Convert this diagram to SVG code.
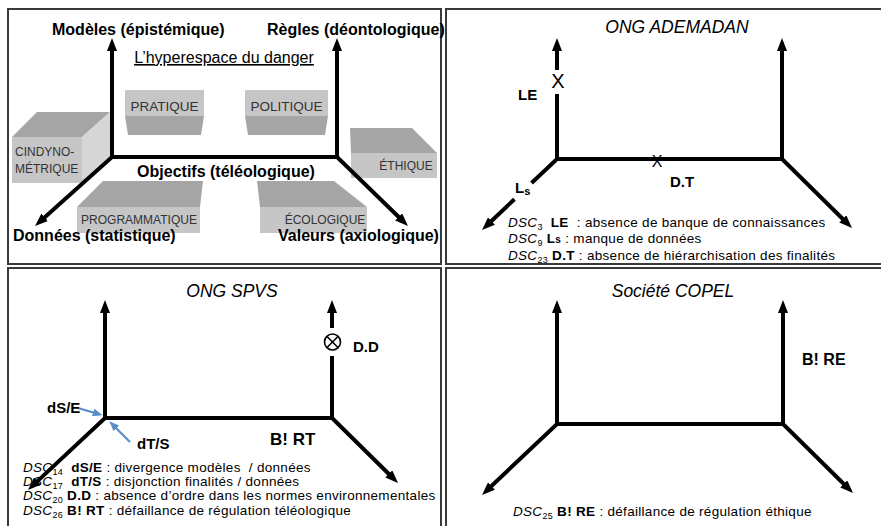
<svg xmlns="http://www.w3.org/2000/svg" width="881" height="526" viewBox="0 0 881 526">
<style>
.panel{fill:#fff;stroke:#3a3a3a;stroke-width:2}
.ax{stroke:#000;stroke-width:4;fill:none;stroke-linecap:square}
.arr{marker-end:url(#ah)}
.blue{stroke:#5a8cc8;stroke-width:2.2;fill:none;marker-end:url(#bh)}
text{font-family:"Liberation Sans",Arial,sans-serif;fill:#000}
.big{font-size:16px;font-weight:bold}
.lab{font-size:15px;font-weight:bold}
.ttl{font-size:17.5px;font-style:italic}
.leg{font-size:13.5px;letter-spacing:0.3px}
.it{font-style:italic}
.b{font-weight:bold}
.sub{font-size:9px}
.bx{font-size:12px;fill:#333}
.bx2{font-size:13.5px;fill:#333}
.f1{fill:#c6c6c6}
.f2{fill:#a5a5a5}
.f3{fill:#d6d6d6}
</style>
<defs>
<marker id="ah" viewBox="0 0 13 10" markerWidth="13" markerHeight="10" refX="2" refY="5" orient="auto" markerUnits="userSpaceOnUse"><path d="M0,0 L13,5 L0,10 z" fill="#000"/></marker>
<marker id="bh" viewBox="0 0 10 8" markerWidth="10" markerHeight="8" refX="2" refY="4" orient="auto" markerUnits="userSpaceOnUse"><path d="M0,0 L10,4 L0,8 z" fill="#5a8cc8"/></marker>
</defs>

<rect class="panel" x="8" y="9" width="433" height="255"/>
<rect class="panel" x="446" y="9" width="440" height="255"/>
<rect class="panel" x="8" y="268" width="433" height="264"/>
<rect class="panel" x="446" y="268" width="440" height="264"/>

<g id="box-pratique">
<rect class="f1" x="125" y="90" width="79" height="26"/>
<polygon class="f2" points="125,116 204,116 201,135 128,135"/>
<text class="bx2" x="164.5" y="111" text-anchor="middle">PRATIQUE</text>
</g>
<g id="box-politique">
<rect class="f1" x="245" y="90" width="83" height="26"/>
<polygon class="f2" points="245,116 328,116 325,135 248,135"/>
<text class="bx2" x="286.5" y="111" text-anchor="middle">POLITIQUE</text>
</g>
<g id="box-cindynometrique">
<polygon class="f2" points="12,137 37,112 110,112 82,137"/>
<polygon class="f3" points="82,137 110,112 110,160 82,183"/>
<rect class="f1" x="12" y="137" width="70" height="46"/>
<text class="bx" x="15" y="156">CINDYNO-</text>
<text class="bx" x="15" y="173">MÉTRIQUE</text>
</g>
<g id="box-ethique">
<polygon class="f2" points="350,128 412,128 437,153 351,153"/>
<rect class="f1" x="351" y="153" width="86" height="25"/>
<text class="bx" x="406" y="170" text-anchor="middle">ÉTHIQUE</text>
</g>
<g id="box-programmatique">
<polygon class="f2" points="103,181 203,181 200,207 77,207"/>
<rect class="f1" x="77" y="207" width="123" height="26"/>
<text class="bx" x="139" y="224" text-anchor="middle">PROGRAMMATIQUE</text>
</g>
<g id="box-ecologique">
<polygon class="f2" points="257,181 334,181 367,207 260,207"/>
<rect class="f1" x="260" y="207" width="107" height="26"/>
<text class="bx" x="325" y="224" text-anchor="middle">ÉCOLOGIQUE</text>
</g>

<g id="connectors">
<line class="ax arr" x1="112" y1="157" x2="112" y2="49"/>
<line class="ax arr" x1="337" y1="157" x2="337" y2="49"/>
<line class="ax" x1="112" y1="157" x2="337" y2="157"/>
<line class="ax arr" x1="112" y1="157" x2="43.2" y2="218.7"/>
<line class="ax arr" x1="337" y1="157" x2="400.1" y2="218.3"/>

<line class="ax" x1="557" y1="159" x2="557" y2="96"/>
<line class="ax arr" x1="557" y1="68" x2="557" y2="49"/>
<line class="ax arr" x1="782" y1="159" x2="782" y2="49"/>
<line class="ax" x1="557" y1="159" x2="782" y2="159"/>
<line class="ax" x1="557" y1="159" x2="533" y2="181.7"/>
<line class="ax arr" x1="513" y1="200.6" x2="490" y2="222.4"/>
<line class="ax arr" x1="782" y1="159" x2="844.2" y2="220.3"/>

<line class="ax arr" x1="105" y1="418" x2="105" y2="311"/>
<line class="ax" x1="332" y1="418" x2="332" y2="358"/>
<line class="ax arr" x1="332" y1="326" x2="332" y2="311"/>
<line class="ax" x1="105" y1="418" x2="332" y2="418"/>
<line class="ax arr" x1="105" y1="418" x2="36" y2="482.5"/>
<line class="ax arr" x1="332" y1="418" x2="390.2" y2="475.3"/>
<line class="blue" x1="78" y1="408" x2="95" y2="413"/>
<line class="blue" x1="130" y1="442" x2="115" y2="427"/>

<line class="ax arr" x1="557" y1="424" x2="557" y2="311"/>
<line class="ax arr" x1="783" y1="424" x2="783" y2="311"/>
<line class="ax" x1="557" y1="424" x2="783" y2="424"/>
<line class="ax arr" x1="557" y1="424" x2="490" y2="487.4"/>
<line class="ax arr" x1="783" y1="424" x2="845.2" y2="485.3"/>
</g>

<g id="labels-hyperespace">
<text class="big" x="52" y="35">Modèles (épistémique)</text>
<text class="big" x="267" y="35">Règles (déontologique)</text>
<text x="224" y="63" text-anchor="middle" font-size="16" text-decoration="underline">L’hyperespace du danger</text>
<text class="big" x="226" y="177" text-anchor="middle">Objectifs (téléologique)</text>
<text class="big" x="13" y="241">Données (statistique)</text>
<text class="big" x="278" y="241">Valeurs (axiologique)</text>
</g>

<g id="panel-ademadan">
<text class="ttl" x="677" y="33" text-anchor="middle">ONG ADEMADAN</text>
<text x="558" y="88" font-size="20" text-anchor="middle">X</text>
<text class="lab" x="518" y="100">LE</text>
<text x="657" y="167" font-size="16" text-anchor="middle">X</text>
<text class="lab" x="670" y="187">D.T</text>
<text class="lab" x="515" y="193">L<tspan font-size="11" dy="2">s</tspan></text>
<text class="leg" x="508" y="227" xml:space="preserve"><tspan class="it">DSC</tspan><tspan class="sub" dy="3">3</tspan><tspan dy="-3">  </tspan><tspan class="b">LE</tspan>  : absence de banque de connaissances</text>
<text class="leg" x="508" y="243" xml:space="preserve"><tspan class="it">DSC</tspan><tspan class="sub" dy="3">9</tspan><tspan dy="-3"> </tspan><tspan class="b">L<tspan font-size="10">s</tspan></tspan> : manque de données</text>
<text class="leg" x="508" y="260" xml:space="preserve"><tspan class="it">DSC</tspan><tspan class="sub" dy="3">23</tspan><tspan dy="-3"> </tspan><tspan class="b">D.T</tspan> : absence de hiérarchisation des finalités</text>
</g>

<g id="panel-spvs">
<text class="ttl" x="232" y="297" text-anchor="middle">ONG SPVS</text>
<g id="otimes" fill="none" stroke="#000" stroke-width="1.6">
<circle cx="332.5" cy="342" r="8"/>
<line x1="326.8" y1="336.3" x2="338.2" y2="347.7"/>
<line x1="338.2" y1="336.3" x2="326.8" y2="347.7"/>
</g>
<text class="lab" x="353" y="352">D.D</text>
<text class="lab" x="47" y="413">dS/E</text>
<text class="lab" x="137" y="449">dT/S</text>
<text x="270" y="445" font-size="17" font-weight="bold">B! RT</text>
<text class="leg" x="23" y="472" xml:space="preserve"><tspan class="it">DSC</tspan><tspan class="sub" dy="3">14</tspan><tspan dy="-3">  </tspan><tspan class="b">dS/E</tspan> : divergence modèles  / données</text>
<text class="leg" x="23" y="486" xml:space="preserve"><tspan class="it">DSC</tspan><tspan class="sub" dy="3">17</tspan><tspan dy="-3">  </tspan><tspan class="b">dT/S</tspan> : disjonction finalités / données</text>
<text class="leg" x="23" y="500" xml:space="preserve"><tspan class="it">DSC</tspan><tspan class="sub" dy="3">20</tspan><tspan dy="-3"> </tspan><tspan class="b">D.D</tspan> : absence d’ordre dans les normes environnementales</text>
<text class="leg" x="23" y="515" xml:space="preserve"><tspan class="it">DSC</tspan><tspan class="sub" dy="3">26</tspan><tspan dy="-3"> </tspan><tspan class="b">B! RT</tspan> : défaillance de régulation téléologique</text>
</g>

<g id="panel-copel">
<text class="ttl" x="673" y="297" text-anchor="middle">Société COPEL</text>
<text x="802" y="365" font-size="16" font-weight="bold">B! RE</text>
<text class="leg" x="513" y="516" xml:space="preserve"><tspan class="it">DSC</tspan><tspan class="sub" dy="3">25</tspan><tspan dy="-3"> </tspan><tspan class="b">B! RE</tspan> : défaillance de régulation éthique</text>
</g>
</svg>
